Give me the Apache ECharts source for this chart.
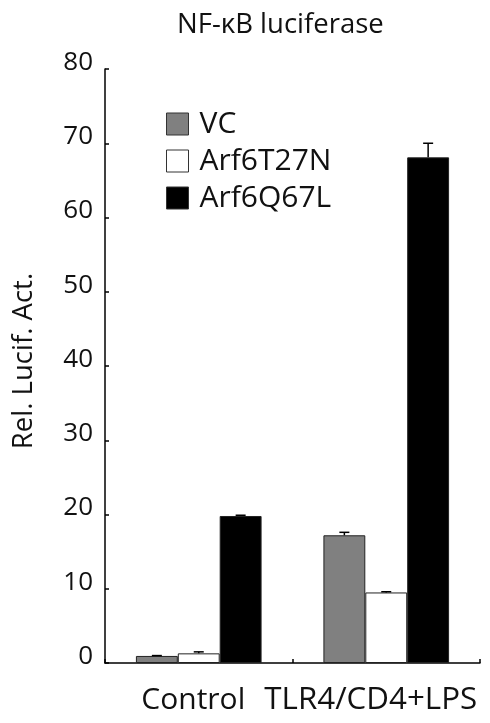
<!DOCTYPE html>
<html>
<head>
<meta charset="utf-8">
<script src="https://cdn.jsdelivr.net/npm/echarts@6/dist/echarts.min.js"></script>
<style>
html,body{margin:0;padding:0;background:#fff;}
#chart{width:490px;height:723px;}
</style>
</head>
<body>
<div id="chart"></div>
<script>
var categories = ['Control', 'TLR4/CD4+LPS'];
var seriesNames = ['VC', 'Arf6T27N', 'Arf6Q67L'];
var vcValues = [0.95, 17.2];
var t27nValues = [1.3, 9.5];
var q67lValues = [19.8, 68.1];
var vcErrors = [0.05, 0.4];
var t27nErrors = [0.2, 0.1];
var q67lErrors = [0.1, 1.9];
var yTicks = [0, 10, 20, 30, 40, 50, 60, 70, 80];

var FONT = 'Open Sans';
var barPct = 0.2234;
var colors = ['#808080', '#ffffff', '#000000'];
var values = [vcValues, t27nValues, q67lValues];
var errors = [vcErrors, t27nErrors, q67lErrors];
var labelShift = [11, 31];
var labelSize = [30, 31.3];

var chart = echarts.init(document.getElementById('chart'), null, {renderer: 'canvas'});

var series = [];
seriesNames.forEach(function (name, i) {
  series.push({
    name: name,
    type: 'bar',
    data: values[i],
    barWidth: (barPct * 100) + '%',
    barGap: '0%',
    itemStyle: {color: colors[i], borderColor: '#222', borderWidth: 1},
    emphasis: {disabled: true},
    silent: true
  });
});

var errData = [];
for (var s = 0; s < 3; s++) {
  for (var c = 0; c < categories.length; c++) {
    errData.push([c, values[s][c], errors[s][c], s]);
  }
}
series.push({
  type: 'custom',
  silent: true,
  data: errData,
  z: 5,
  renderItem: function (params, api) {
    var c = api.value(0), v = api.value(1), e = api.value(2), s = api.value(3);
    var band = api.size([1, 0])[0];
    var bw = band * barPct;
    var base = api.coord([c, v]);
    var top = api.coord([c, v + e]);
    var x = base[0] + (s - 1) * bw;
    var half = 5;
    return {
      type: 'group',
      children: [
        {type: 'line', shape: {x1: x, y1: base[1], x2: x, y2: top[1]}, style: {stroke: '#000', lineWidth: 1.5}},
        {type: 'line', shape: {x1: x - half, y1: top[1], x2: x + half, y2: top[1]}, style: {stroke: '#000', lineWidth: 1.5}}
      ]
    };
  }
});

var catData = categories.map(function (name, i) {
  return {value: name, textStyle: {fontSize: labelSize[i], padding: [0, labelShift[i], 0, 0]}};
});

chart.setOption({
  animation: false,
  backgroundColor: '#fff',
  title: {
    text: 'NF-\u03baB luciferase',
    left: 172,
    top: 6,
    textStyle: {fontFamily: FONT, fontSize: 27.5, fontWeight: 'normal', color: '#111'}
  },
  legend: {
    data: seriesNames,
    orient: 'vertical',
    left: 161,
    top: 104,
    itemWidth: 22,
    itemHeight: 22,
    itemGap: 7,
    selectedMode: false,
    icon: 'rect',
    itemStyle: {borderColor: '#333', borderWidth: 1},
    textStyle: {fontFamily: FONT, fontSize: 30, color: '#111', lineHeight: 22, padding: [0, 0, 0, 6]}
  },
  grid: {left: 105, right: 10, top: 69, bottom: 60, containLabel: false},
  xAxis: {
    type: 'category',
    data: catData,
    axisLine: {lineStyle: {color: '#000', width: 1.5}},
    axisTick: {show: true, inside: true, length: 4, lineStyle: {color: '#000', width: 1.5}},
    axisLabel: {fontFamily: FONT, fontSize: 30, color: '#111', margin: 22, interval: 0},
    splitLine: {show: false}
  },
  yAxis: {
    type: 'value',
    min: 0,
    max: 80,
    interval: 10,
    name: 'Rel. Lucif. Act.',
    nameLocation: 'middle',
    nameGap: 67,
    nameTextStyle: {fontFamily: FONT, fontSize: 27.5, color: '#111', padding: [0, 0, 0, 10]},
    axisLine: {show: true, lineStyle: {color: '#000', width: 1.5}},
    axisTick: {show: true, inside: true, length: 4, lineStyle: {color: '#000', width: 1.5}},
    axisLabel: {
      fontFamily: FONT, fontSize: 26, color: '#111', margin: 12,
      verticalAlign: 'bottom', lineHeight: 13,
      formatter: function (v) { return yTicks.indexOf(v) >= 0 ? String(v) : ''; }
    },
    splitLine: {show: false}
  },
  series: series
});
</script>
</body>
</html>
